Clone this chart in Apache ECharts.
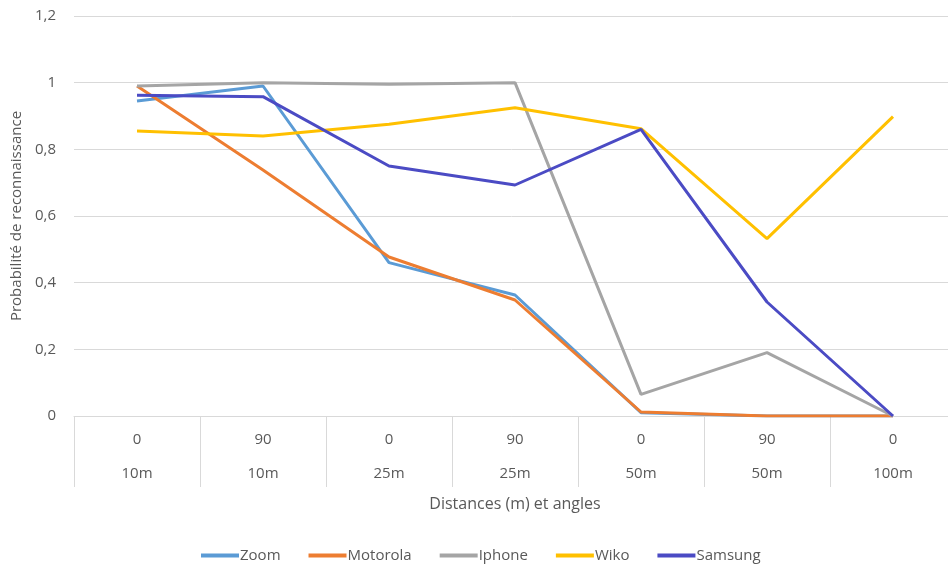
<!DOCTYPE html>
<html>
<head>
<meta charset="utf-8">
<script src="https://cdn.jsdelivr.net/npm/echarts@6/dist/echarts.min.js"></script>
<style>
  html, body { margin: 0; padding: 0; background: #fff; }
  #chart { width: 948px; height: 570px; }
</style>
</head>
<body>
<div id="chart"></div>
<script>
// categories : angle (ligne 1) et distance (ligne 2)
const angles = ['0', '90', '0', '90', '0', '90', '0']
const distances = ['10m', '10m', '25m', '25m', '50m', '50m', '100m']

// valeurs
const zoom = [0.945, 0.99, 0.46, 0.363, 0.01, 0, 0]
const motorola = [0.99, 0.738, 0.477, 0.348, 0.012, 0, 0]
const iphone = [0.99, 1.0, 0.995, 1.0, 0.065, 0.19, 0]
const wiko = [0.855, 0.84, 0.875, 0.925, 0.862, 0.532, 0.898]
const samsung = [0.962, 0.958, 0.75, 0.693, 0.86, 0.342, 0]

const yTicks = [0, 0.2, 0.4, 0.6, 0.8, 1, 1.2]

const seriesNames = ['Zoom', 'Motorola', 'Iphone', 'Wiko', 'Samsung']
const seriesData = [zoom, motorola, iphone, wiko, samsung]
const colors = ['#5B9BD5', '#ED7D31', '#A5A5A5', '#FFC000', '#4B4BC4']

const font = 'Open Sans'
const textColor = '#595959'

const chart = echarts.init(document.getElementById('chart'))

const option = {
    color: colors,
    textStyle: { fontFamily: font },
    grid: { left: 74, right: -8, top: 16, bottom: 154, outerBoundsMode: 'none' },
    legend: {
        data: seriesNames,
        top: 543,
        left: 196,
        icon: 'rect',
        itemWidth: 38,
        itemHeight: 4,
        itemGap: 28,
        textStyle: { color: textColor, fontSize: 15, fontFamily: font, padding: [0, 0, 0, -4] }
    },
    xAxis: {
        type: 'category',
        data: angles.map((a, i) => a + '|' + distances[i]),
        boundaryGap: true,
        name: 'Distances (m) et angles',
        nameLocation: 'middle',
        nameGap: 80,
        nameTextStyle: { color: textColor, fontSize: 16 },
        axisLine: { lineStyle: { color: '#D9D9D9', width: 1 } },
        axisTick: { show: true, interval: 0, length: 71, lineStyle: { color: '#D9D9D9' } },
        axisLabel: {
            interval: 0,
            margin: 7,
            formatter: v => {
                const p = v.split('|')
                return '{a|' + p[0] + '}\n{a|' + p[1] + '}'
            },
            rich: {
                a: { color: textColor, fontSize: 15, lineHeight: 34, fontFamily: font }
            }
        },
        splitLine: { show: false }
    },
    yAxis: {
        type: 'value',
        min: yTicks[0],
        max: yTicks[yTicks.length - 1],
        interval: 0.2,
        name: 'Probabilité de reconnaissance',
        nameLocation: 'middle',
        nameRotate: 90,
        nameGap: 46,
        nameTextStyle: { color: textColor, fontSize: 15 },
        axisLine: { show: false },
        axisTick: { show: false },
        axisLabel: {
            color: textColor,
            fontSize: 15,
            margin: 18,
            formatter: v => String(+v.toFixed(1)).replace('.', ',')
        },
        splitLine: { lineStyle: { color: '#D9D9D9', width: 1 } }
    },
    series: seriesNames.map((name, i) => ({
        name: name,
        type: 'line',
        data: seriesData[i],
        symbol: 'none',
        lineStyle: { width: 3, color: colors[i] },
        itemStyle: { color: colors[i] }
    }))
}

chart.setOption(option)
</script>
</body>
</html>
